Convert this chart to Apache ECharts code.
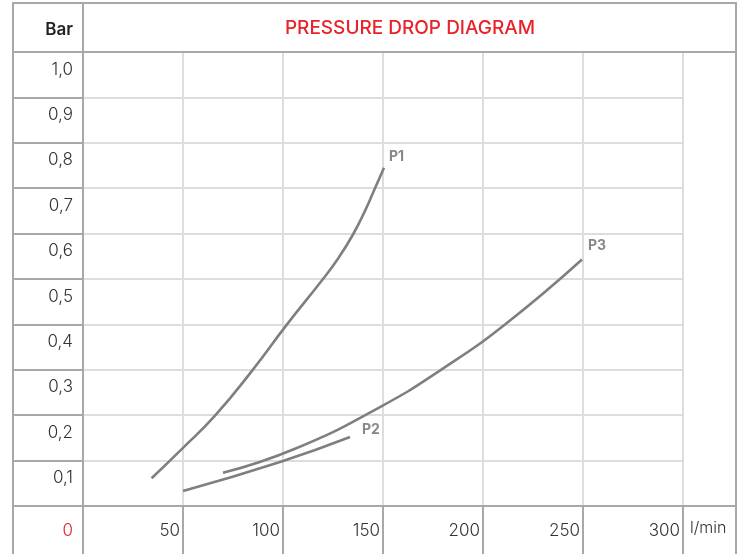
<!DOCTYPE html>
<html>
<head>
<meta charset="utf-8">
<script src="https://cdn.jsdelivr.net/npm/echarts@6/dist/echarts.min.js"></script>
<style>
  html, body { margin: 0; padding: 0; background: #fff; }
  #chart { width: 745px; height: 554px; }
</style>
</head>
<body>
<div id="chart"></div>
<script>
// flow l/min, pressure bar
var p1 = [[34.3, 0.061], [50, 0.128], [66, 0.199], [84, 0.295], [102, 0.4], [120, 0.5], [128, 0.548], [135, 0.598], [141, 0.65], [146, 0.7], [150.5, 0.745]];
var p2 = [[50, 0.033], [98.5, 0.097], [133.5, 0.152]];
var p3 = [[70, 0.073], [106, 0.126], [148.5, 0.218], [179, 0.3], [211, 0.4], [249.5, 0.543]];
var curveNames = ['P1', 'P2', 'P3'];
var labelOffsets = [[0, -11], [7, -7], [1, -14]];

var dark = '#a8a8a8';
var light = '#dddddd';
var font = 'Inter';

var chart = echarts.init(document.getElementById('chart'));

function curve(name, data, off) {
  return {
    name: name,
    type: 'line',
    data: data,
    smooth: 0.5,
    showSymbol: false,
    lineStyle: { color: '#7f7f7f', width: 2.6 },
    endLabel: {
      show: true,
      formatter: '{a}',
      offset: off,
      distance: 5,
      color: '#888',
      fontFamily: font,
      fontWeight: 'bold',
      fontSize: 14
    }
  };
}

var option = {
  animation: false,
  title: {
    text: 'PRESSURE DROP DIAGRAM',
    left: 410,
    top: 19,
    padding: 0,
    textAlign: 'center',
    textStyle: { color: '#e8232b', fontSize: 19, fontWeight: 500, fontFamily: font }
  },
  grid: { left: 83, right: 62, top: 52, bottom: 48 },
  xAxis: {
    type: 'value',
    min: 0,
    max: 300,
    interval: 50,
    name: 'l/min',
    nameLocation: 'end',
    nameGap: 7,
    nameTextStyle: { color: '#333', fontSize: 16, fontWeight: 300, fontFamily: font, align: 'left', verticalAlign: 'top', padding: [14, 0, 0, 0] },
    axisLine: { show: true, lineStyle: { color: dark, width: 2 } },
    axisTick: { show: true, inside: false, length: 50, lineStyle: { color: dark, width: 2 } },
    splitLine: { show: true, lineStyle: { color: light, width: 2 } },
    axisLabel: {
      margin: 16,
      align: 'right',
      padding: [0, 3, 0, 0],
      color: '#333',
      fontSize: 17,
      fontWeight: 300,
      fontFamily: font,
      formatter: function (v) { return v === 0 ? '' : String(v); }
    }
  },
  yAxis: {
    type: 'value',
    min: 0,
    max: 1,
    interval: 0.1,
    name: 'Bar',
    nameLocation: 'end',
    nameGap: 14,
    nameTextStyle: { color: '#222', fontSize: 17, fontWeight: 600, fontFamily: font, align: 'right', padding: [0, 10, 0, 0] },
    axisLine: { show: true, lineStyle: { color: dark, width: 2 } },
    axisTick: { show: true, inside: false, length: 70, lineStyle: { color: dark, width: 2 } },
    splitLine: { show: true, lineStyle: { color: light, width: 2 } },
    axisLabel: {
      margin: 10,
      verticalAlign: 'top',
      padding: [9, 0, 0, 0],
      color: '#333',
      fontSize: 17,
      fontWeight: 300,
      fontFamily: font,
      formatter: function (v) {
        if (v === 0) return '{z|0}';
        return v.toFixed(1).replace('.', ',');
      },
      rich: {
        z: { color: '#e8232b', fontSize: 17, fontWeight: 300, fontFamily: font, lineHeight: 32 }
      }
    }
  },
  graphic: [
    { type: 'rect', z: 100, shape: { x: 13, y: 3, width: 723, height: 570 }, style: { fill: 'none', stroke: dark, lineWidth: 2 } },
    { type: 'line', z: 100, shape: { x1: 13, y1: 52, x2: 736, y2: 52 }, style: { stroke: dark, lineWidth: 2 } },
    { type: 'line', z: 100, shape: { x1: 13, y1: 506, x2: 736, y2: 506 }, style: { stroke: dark, lineWidth: 2 } },
    { type: 'line', z: 100, shape: { x1: 83, y1: 3, x2: 83, y2: 52 }, style: { stroke: dark, lineWidth: 2 } }
  ],
  series: [
    curve(curveNames[0], p1, labelOffsets[0]),
    curve(curveNames[1], p2, labelOffsets[1]),
    curve(curveNames[2], p3, labelOffsets[2])
  ]
};

chart.setOption(option);
</script>
</body>
</html>
